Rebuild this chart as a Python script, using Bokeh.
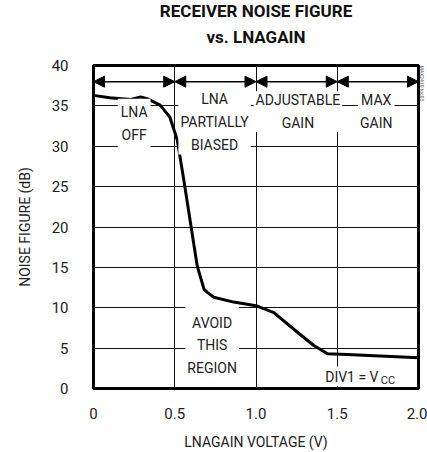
from bokeh.plotting import figure
from bokeh.models import Label, Arrow, NormalHead, FixedTicker, Range1d, Title
from bokeh.embed import file_html
from bokeh.resources import INLINE

# ---- data ----
lnagain_v = [0.0, 0.10, 0.23, 0.29, 0.33, 0.41, 0.47, 0.515, 0.556, 0.638, 0.68, 0.70, 0.74, 0.863, 1.0, 1.11, 1.253, 1.356, 1.44, 1.56, 2.0]
noise_db = [36.3, 36.0, 35.8, 36.1, 35.9, 35.1, 33.6, 30.8, 25.8, 15.2, 12.3, 11.9, 11.3, 10.7, 10.26, 9.4, 7.0, 5.33, 4.3, 4.2, 3.8]

x_ticks = [0, 0.5, 1.0, 1.5, 2.0]
x_tick_labels = ["0", "0.5", "1.0", "1.5", "2.0"]
y_ticks = [0, 5, 10, 15, 20, 25, 30, 35, 40]

region_bounds = [0.0, 0.5, 1.0, 1.5, 2.0]
region_arrow_y = 38.0
region_names = ["LNA\nOFF", "LNA\nPARTIALLY\nBIASED", "ADJUSTABLE\nGAIN", "MAX\nGAIN"]
region_label_x = [0.25, 0.745, 1.258, 1.74]
region_label_y = [32.86, 33.03, 34.28, 34.28]
region_pad = [(3, 5), (2, 2), (2, 1), (2, 6)]

title_lines = ["RECEIVER NOISE FIGURE", "vs. LNAGAIN"]
x_label = "LNAGAIN VOLTAGE (V)"
y_label = "NOISE FIGURE (dB)"
fig_id = "MAX2410 toc05"

FONT = "Roboto"
TXT = "#222222"

p = figure(width=427, height=452, x_range=Range1d(0, 2.0), y_range=Range1d(0, 40),
           output_backend="svg", toolbar_location=None, title=None,
           min_border_left=93, min_border_right=9, min_border_top=65, min_border_bottom=62)
p.background_fill_color = "white"
p.border_fill_color = "white"
p.outline_line_color = "black"
p.outline_line_width = 3

for ax in (p.xaxis[0], p.yaxis[0]):
    ax.axis_line_color = None
    ax.major_tick_line_color = None
    ax.minor_tick_line_color = None
    ax.major_label_text_font = FONT
    ax.major_label_text_font_size = "15px"
    ax.major_label_text_color = TXT
    ax.axis_label_text_font = FONT
    ax.axis_label_text_font_size = "14px"
    ax.axis_label_text_font_style = "normal"
    ax.axis_label_text_color = TXT

p.xaxis.ticker = FixedTicker(ticks=x_ticks)
p.xaxis.major_label_overrides = {t: l for t, l in zip(x_ticks, x_tick_labels)}
p.xaxis.major_label_standoff = 13
p.xaxis.axis_label = x_label
p.xaxis.axis_label_standoff = 12
p.yaxis.ticker = FixedTicker(ticks=y_ticks)
p.yaxis.major_label_standoff = 19
p.yaxis.axis_label = y_label
p.yaxis.axis_label_standoff = 16

p.xgrid.ticker = FixedTicker(ticks=x_ticks)
p.ygrid.ticker = FixedTicker(ticks=y_ticks)
for g in (p.xgrid[0], p.ygrid[0]):
    g.grid_line_color = "#111111"
    g.grid_line_width = 1
    g.grid_line_alpha = 1.0

# curve
p.line(lnagain_v, noise_db, line_color="black", line_width=3, line_join="round")

# region arrows
for a, b in zip(region_bounds[:-1], region_bounds[1:]):
    p.add_layout(Arrow(x_start=a, x_end=b, y_start=region_arrow_y, y_end=region_arrow_y,
                       line_width=1.5, line_color="black",
                       start=NormalHead(size=11, fill_color="black", line_color="black"),
                       end=NormalHead(size=11, fill_color="black", line_color="black")))

# region labels
for name, lx, ly, pad in zip(region_names, region_label_x, region_label_y, region_pad):
    p.add_layout(Label(x=lx, y=ly, text=name, text_align="center", text_baseline="middle",
                       text_font=FONT, text_font_size="14px", text_color=TXT,
                       text_line_height=1.42,
                       background_fill_color="white", padding=pad))

p.add_layout(Label(x=0.73, y=5.33, text="AVOID\nTHIS\nREGION", text_align="center",
                   text_baseline="middle", text_font=FONT, text_font_size="14px",
                   text_color=TXT, text_line_height=1.42,
                   background_fill_color="white", padding=(2, 9)))

p.add_layout(Label(x=1.59, y=1.48, text="DIV1 = V", text_align="center",
                   text_baseline="middle", text_font=FONT, text_font_size="14px",
                   text_color=TXT, background_fill_color="white", padding=(1, 2)))
p.add_layout(Label(x=1.59, y=1.48, x_offset=36, y_offset=-4, text="CC", text_align="center",
                   text_baseline="middle", text_font=FONT, text_font_size="11px",
                   text_color=TXT))

# titles (first added sits closest to the plot)
p.add_layout(Title(text=title_lines[1], align="center", text_font=FONT,
                   text_font_size="17px", text_font_style="bold", text_color="#111111",
                   standoff=38), "above")
p.add_layout(Title(text=title_lines[0], align="center", text_font=FONT,
                   text_font_size="17px", text_font_style="bold", text_color="#111111",
                   standoff=-30), "above")

# figure id on the right
p.add_layout(Title(text=fig_id, align="left", text_font=FONT, text_font_size="5px",
                   text_font_style="normal", text_color="#555555", standoff=0), "right")

open("out.html", "w").write(file_html(p, INLINE))
